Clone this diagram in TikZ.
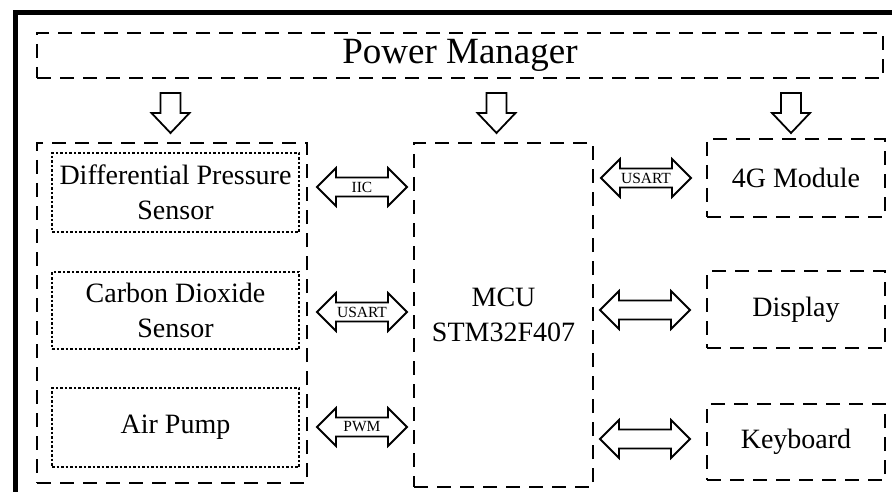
\documentclass[tikz,border=0pt]{standalone}
\usepackage{fontspec}
\setmainfont{Liberation Serif}
\tikzset{
  dbox/.style={draw, line width=2pt, dash pattern=on 14pt off 9pt, inner sep=0pt},
  dotbox/.style={draw, line width=2pt, dash pattern=on 2.5pt off 2pt, inner sep=0pt},
  bigtxt/.style={font=\fontsize{28}{34.5}\selectfont, align=center},
  lbl/.style={font=\fontsize{15.5}{17}\selectfont, inner sep=0pt},
  arrline/.style={draw, line width=1.8pt, fill=white, line join=miter},
  dblarr/.pic={\path[arrline] (-45,0) -- (-26,-19) -- (-26,-9.5) -- (26,-9.5) -- (26,-19) -- (45,0) -- (26,19) -- (26,9.5) -- (-26,9.5) -- (-26,19) -- cycle;},
  downarr/.pic={\path[arrline] (-10,-20) -- (10,-20) -- (10,0) -- (19,0) -- (0,20) -- (-19,0) -- (-10,0) -- cycle;}
}
\begin{document}
\begin{tikzpicture}[x=1pt,y=-1pt]
\useasboundingbox (0,0) rectangle (892,492);
% outer frame
\draw[line width=4.5pt] (15.5,492) -- (15.5,12.5) -- (892,12.5);
% power manager
\node[dbox, minimum width=846pt, minimum height=45pt, font=\fontsize{37}{40}\selectfont] (pm) at (460,55.5) {Power Manager};
% left group
\node[dbox, minimum width=270pt, minimum height=340pt] (grp) at (172,313) {};
\node[dotbox, bigtxt, minimum width=247pt, minimum height=79pt] (dps) at (175.5,192.5) {Differential Pressure\\Sensor};
\node[dotbox, bigtxt, minimum width=247pt, minimum height=77pt] (co2) at (175.5,310.5) {Carbon Dioxide\\Sensor};
\node[dotbox, bigtxt, minimum width=247pt, minimum height=79pt] (pump) at (175.5,427.5) {Air Pump};
% MCU
\node[dbox, bigtxt, minimum width=179pt, minimum height=344pt] (mcu) at (503.5,315) {MCU\\STM32F407};
% right boxes
\node[dbox, bigtxt, minimum width=178pt, minimum height=78pt] (g4) at (796,178) {4G Module};
\node[dbox, bigtxt, minimum width=178pt, minimum height=77pt] (disp) at (796,309.5) {Display};
\node[dbox, bigtxt, minimum width=178pt, minimum height=76pt] (kbd) at (796,442) {Keyboard};
% down arrows from power manager
\pic (d1) at (170.5,113) {downarr};
\pic (d2) at (496.5,113) {downarr};
\pic (d3) at (791,113) {downarr};
% double arrows
\pic (a1) at (362,187) {dblarr};
\node[lbl] (l1) at (362,187) {IIC};
\pic (a2) at (362,312) {dblarr};
\node[lbl] (l2) at (362,312) {USART};
\pic (a3) at (362,427) {dblarr};
\node[lbl] (l3) at (362,427) {PWM};
\pic (a4) at (646,178) {dblarr};
\node[lbl] (l4) at (646,178) {USART};
\pic (a5) at (645,310) {dblarr};
\pic (a6) at (645,439) {dblarr};
\end{tikzpicture}
\end{document}
